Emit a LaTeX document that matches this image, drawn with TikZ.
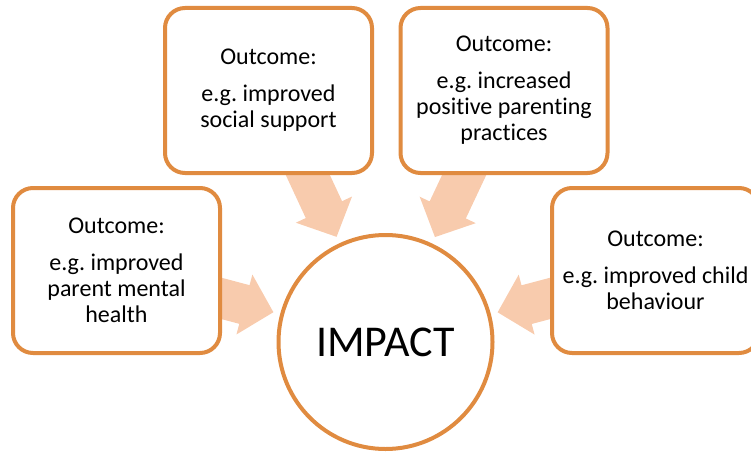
\documentclass[tikz,border=0pt]{standalone}
\usepackage{fontspec}
\setmainfont{Carlito}[Ligatures=NoCommon]
\frenchspacing
\usetikzlibrary{calc,backgrounds}
\definecolor{boxline}{HTML}{E08B40}
\definecolor{arrowfill}{HTML}{F8CBAD}
\tikzset{
	outcome/.style={draw=boxline, line width=4pt, fill=white, rounded corners=20pt,
		minimum width=207pt, minimum height=165pt, align=center, inner sep=2pt,
		font=\fontsize{24}{26}\selectfont},
	impact/.style={circle, draw=boxline, line width=4pt, fill=white,
		minimum size=214pt, font=\fontsize{44}{50}\selectfont},
	feed/.style={fill=arrowfill}
}
% block arrow from an outcome box towards the impact circle
\newcommand{\feedarrow}[1]{%
	\coordinate (tip) at ($(imp.center)!116pt!(#1.center)$);
	\coordinate (hb) at ($(imp.center)!146pt!(#1.center)$);
	\fill[feed] ($(#1.center)!20pt!90:(imp.center)$) -- ($(hb)!20pt!90:(tip)$)
		-- ($(hb)!31pt!90:(tip)$) -- (tip) -- ($(hb)!31pt!-90:(tip)$)
		-- ($(hb)!20pt!-90:(tip)$) -- ($(#1.center)!20pt!-90:(imp.center)$) -- cycle;
}
\begin{document}
\begin{tikzpicture}[x=1pt,y=-1pt]
	\useasboundingbox (0,0) rectangle (751,452);
	\clip (0,0) rectangle (751,452);
	\node[impact] (imp) at (385.5,342) {IMPACT};
	\node[outcome] (lft) at (116.5,270.5) {Outcome:\\[11pt]e.g. improved\\parent mental\\health};
	\node[outcome] (tl) at (268.5,90.5) {Outcome:\\[11pt]e.g. improved\\social support};
	\node[outcome] (tr) at (504,90.5) {Outcome:\\[11pt]e.g. increased\\positive parenting\\practices};
	\node[outcome] (rgt) at (655.5,270.5) {Outcome:\\[11pt]e.g. improved child\\behaviour};

	\begin{pgfonlayer}{background}
		\feedarrow{lft}
		\feedarrow{tl}
		\feedarrow{tr}
		\feedarrow{rgt}
	\end{pgfonlayer}
\end{tikzpicture}
\end{document}
